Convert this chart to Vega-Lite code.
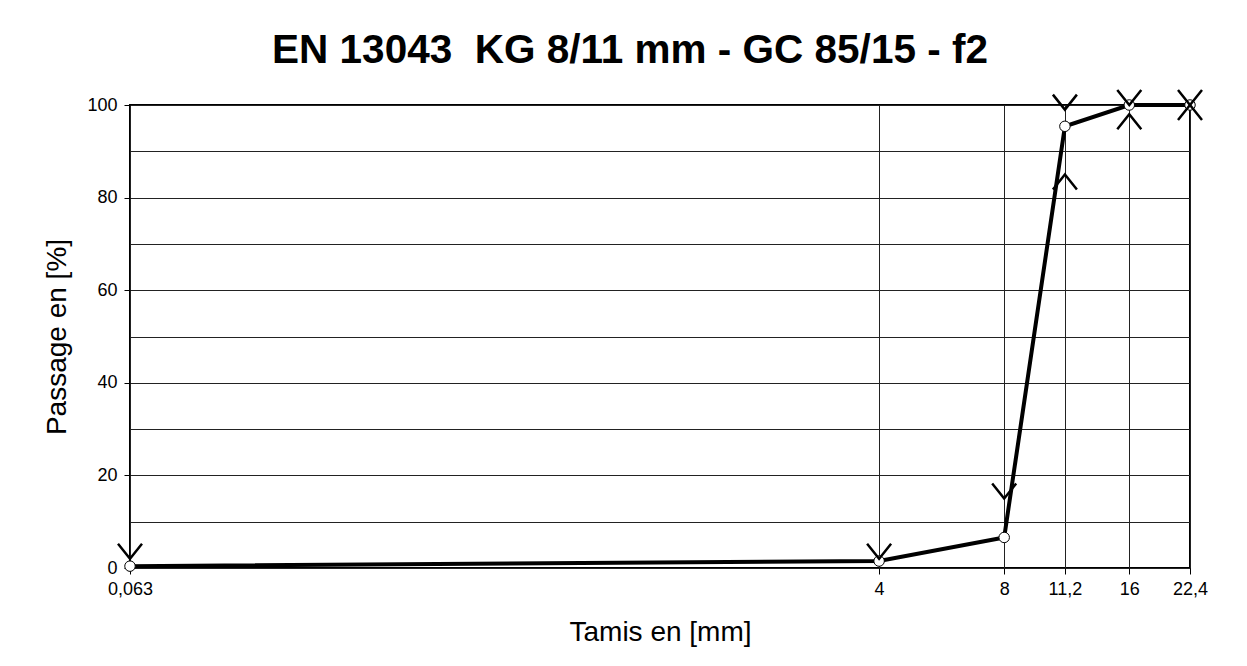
{
  "$schema": "https://vega.github.io/schema/vega-lite/v6.json",
  "autosize": "none",
  "width": 1060,
  "height": 463,
  "padding": {"left": 130, "top": 105, "right": 57, "bottom": 98},
  "background": "white",
  "config": {
    "font": "Liberation Sans",
    "view": {"stroke": "black", "strokeWidth": 2},
    "axis": {"labelFont": "Liberation Sans", "titleFont": "Liberation Sans", "labelColor": "black", "titleColor": "black", "titleFontWeight": "normal", "labelFlush": false}
  },
  "title": {
    "text": "EN 13043\u00a0\u00a0KG 8/11 mm - GC 85/15 - f2",
    "font": "Liberation Sans",
    "fontSize": 40.5,
    "fontWeight": "bold",
    "color": "black",
    "anchor": "middle",
    "dx": -30,
    "offset": 14
  },
  "data": {
    "values": [
      {"sieve": 0.063, "passing": 0.4, "upper": 2, "lower": null},
      {"sieve": 4, "passing": 1.5, "upper": 2, "lower": null},
      {"sieve": 8, "passing": 6.6, "upper": 15, "lower": null},
      {"sieve": 11.2, "passing": 95.4, "upper": 99, "lower": 85},
      {"sieve": 16, "passing": 100, "upper": 100, "lower": 98},
      {"sieve": 22.4, "passing": 100, "upper": 100, "lower": 100}
    ]
  },
  "encoding": {
    "x": {
      "field": "sieve",
      "type": "quantitative",
      "scale": {"type": "log", "domain": [0.063, 22.4], "nice": false, "zero": false},
      "axis": {
        "values": [0.063, 4, 8, 11.2, 16, 22.4],
        "labelExpr": "replace(toString(datum.value), '.', ',')",
        "labelFontSize": 18,
        "labelPadding": 6,
        "labelFlush": false,
        "labelOverlap": false,
        "tickSize": 6,
        "tickColor": "black",
        "domain": false,
        "grid": true,
        "gridColor": "#222",
        "gridWidth": 1,
        "gridOpacity": 1,
        "title": "Tamis en [mm]",
        "titleFontSize": 28,
        "titlePadding": 20
      }
    }
  },
  "layer": [
    {
      "mark": {"type": "line", "color": "black", "strokeWidth": 4},
      "encoding": {
        "y": {
          "field": "passing",
          "type": "quantitative",
          "scale": {"domain": [0, 100], "nice": false},
          "axis": {
            "values": [0, 10, 20, 30, 40, 50, 60, 70, 80, 90, 100],
            "labelExpr": "datum.value % 20 == 0 ? toString(datum.value) : ''",
            "tickOpacity": {"condition": {"test": "datum.value % 20 == 0", "value": 1}, "value": 0},
            "tickColor": "black",
            "tickSize": 6,
            "labelFontSize": 18,
            "labelPadding": 7,
            "labelFlush": false,
            "domain": false,
            "grid": true,
            "gridColor": "#222",
            "gridWidth": 1,
            "gridOpacity": 1,
            "title": "Passage en [%]",
            "titleFontSize": 28,
            "titlePadding": 15
          }
        }
      }
    },
    {
      "mark": {"type": "point", "shape": "circle", "filled": true, "fill": "white", "stroke": "black", "strokeWidth": 1, "size": 110, "opacity": 1},
      "encoding": {"y": {"field": "passing", "type": "quantitative"}}
    },
    {
      "mark": {"type": "point", "shape": "M-0.8,-1L0,0L0.8,-1", "filled": false, "stroke": "black", "strokeWidth": 2.5, "size": 900, "opacity": 1},
      "encoding": {"y": {"field": "upper", "type": "quantitative"}}
    },
    {
      "transform": [{"filter": "datum.lower != null"}],
      "mark": {"type": "point", "shape": "M-0.8,1L0,0L0.8,1", "filled": false, "stroke": "black", "strokeWidth": 2.5, "size": 900, "opacity": 1},
      "encoding": {"y": {"field": "lower", "type": "quantitative"}}
    }
  ]
}
